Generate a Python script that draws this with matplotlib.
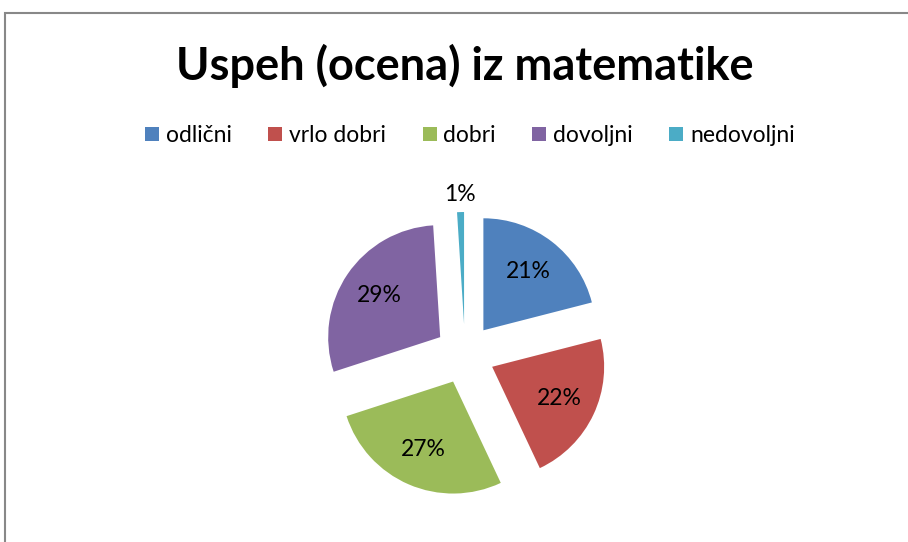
import matplotlib
matplotlib.use('Agg')
import matplotlib.pyplot as plt
from matplotlib.lines import Line2D
from matplotlib.patches import Rectangle
import numpy as np

categories = ['odlični', 'vrlo dobri', 'dobri', 'dovoljni', 'nedovoljni']
shares = [21, 22, 27, 29, 1]
colors = ['#4F81BD', '#C0504D', '#9BBB59', '#8064A2', '#4BACC6']
title = 'Uspeh (ocena) iz matematike'

W, H = 908, 542
plt.rcParams['font.family'] = ['Lato', 'DejaVu Sans']

fig = plt.figure(figsize=(W / 100, H / 100), dpi=100)
ax = fig.add_axes([0, 0, 1, 1])

r = 112
# explode is in data units (pixels here)
wedges, texts, autotexts = ax.pie(
    shares, colors=colors, startangle=90, counterclock=False,
    center=(465, H - 354), radius=r, explode=[30] * len(shares),
    autopct='%1.0f%%', pctdistance=0.66, frame=True,
    textprops=dict(fontsize=16.5, color='black'),
    wedgeprops=dict(linewidth=0))

# small slice: label goes outside
for w, t, v in zip(wedges, autotexts, shares):
    if v < 5:
        ang = np.deg2rad((w.theta1 + w.theta2) / 2)
        cx, cy = w.center
        t.set_position((cx + 1.16 * r * np.cos(ang), cy + 1.16 * r * np.sin(ang)))

ax.set_xlim(0, W)
ax.set_ylim(0, H)
ax.set_aspect('auto')
ax.axis('off')

fig.text(465 / W, 1 - 66 / H, title, ha='center', va='center',
         fontsize=32.5, fontweight='bold')

handles = [Line2D([], [], marker='s', linestyle='none', markersize=10,
                  markerfacecolor=c, markeredgewidth=0) for c in colors]
fig.legend(handles, categories, loc='center', bbox_to_anchor=(470 / W, 1 - 136 / H),
           ncol=5, frameon=False, fontsize=16.5, handlelength=0.6,
           handletextpad=0.3, columnspacing=1.6)

fig.add_artist(Rectangle((4.5 / W, -0.1), 1.2, 1 - 12.5 / H + 0.1,
                         transform=fig.transFigure, fill=False,
                         edgecolor='#888888', linewidth=1.5))

fig.savefig('out.png', dpi=100)
